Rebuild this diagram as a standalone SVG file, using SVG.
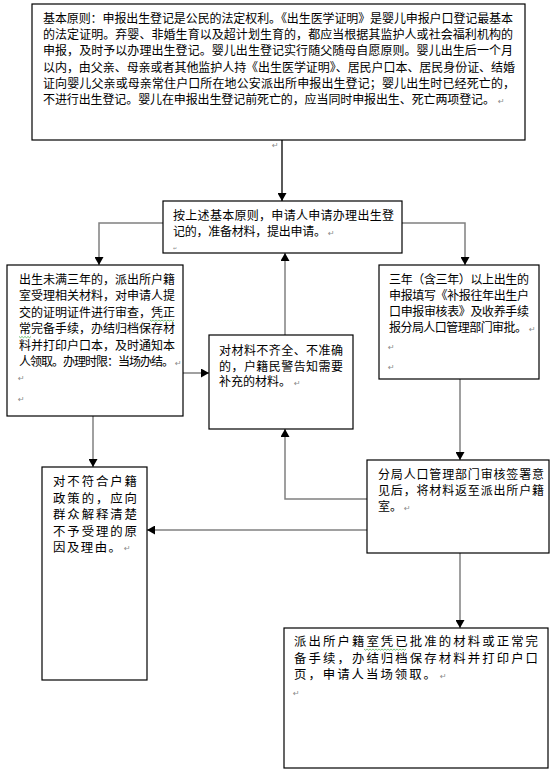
<svg xmlns="http://www.w3.org/2000/svg" width="556" height="773" viewBox="0 0 556 773">
<style>
.box{fill:#fff;stroke:#000;stroke-width:1.2}
.t{font-family:"Noto Sans CJK SC","Liberation Sans",sans-serif;font-size:12px;fill:#000}
.tb{font-family:"Noto Sans CJK SC","Liberation Sans",sans-serif;font-size:12.4px;fill:#000}
.pm{font-family:"DejaVu Sans",sans-serif;font-size:8px;fill:#8a8a8a}
.c{fill:none;stroke:#808080;stroke-width:1.5}
.ck{fill:none;stroke:#000;stroke-width:1.3}
.w{fill:none;stroke:#3aa33a;stroke-width:0.7}
</style>
<defs>
<marker id="ah" markerUnits="userSpaceOnUse" markerWidth="9" markerHeight="9" refX="8" refY="4.5" orient="auto">
<path d="M0,0 L8,4.5 L0,9 Z" fill="#000"/>
</marker>
</defs>
<rect width="556" height="773" fill="#fff"/>

<g id="connectors">
<path class="ck" d="M282,140 V201" marker-end="url(#ah)"/>
<path class="c" d="M163,223 H99 V265" marker-end="url(#ah)"/>
<path class="c" d="M402,223 H465 V265" marker-end="url(#ah)"/>
<path class="c" d="M183,373 H209" marker-end="url(#ah)"/>
<path class="c" d="M285,335 V253" marker-end="url(#ah)"/>
<path class="c" d="M93,416 V467" marker-end="url(#ah)"/>
<path class="c" d="M460,379 V460" marker-end="url(#ah)"/>
<path class="c" d="M367,499 H285 V429" marker-end="url(#ah)"/>
<path class="c" d="M367,530 H147" marker-end="url(#ah)"/>
<path class="c" d="M460,553 V628" marker-end="url(#ah)"/>
</g>

<g id="n1">
<rect class="box" x="32" y="4" width="493" height="136"/>
<text class="t" x="43" y="23" textLength="470" lengthAdjust="spacing">基本原则：申报出生登记是公民的法定权利。《出生医学证明》是婴儿申报户口登记最基本</text>
<text class="t" x="43" y="39" textLength="470" lengthAdjust="spacing">的法定证明。弃婴、非婚生育以及超计划生育的，都应当根据其监护人或社会福利机构的</text>
<text class="t" x="43" y="55" textLength="470" lengthAdjust="spacing">申报，及时予以办理出生登记。婴儿出生登记实行随父随母自愿原则。婴儿出生后一个月</text>
<text class="t" x="43" y="71.5" textLength="472" lengthAdjust="spacing">以内，由父亲、母亲或者其他监护人持《出生医学证明》、居民户口本、居民身份证、结婚</text>
<text class="t" x="43" y="87.5" textLength="472" lengthAdjust="spacing">证向婴儿父亲或母亲常住户口所在地公安派出所申报出生登记；婴儿出生时已经死亡的，</text>
<text class="t" x="43" y="104" textLength="452" lengthAdjust="spacing">不进行出生登记。婴儿在申报出生登记前死亡的，应当同时申报出生、死亡两项登记。</text>
<text class="pm" x="498" y="104">↵</text>
<text class="pm" x="272" y="148">↵</text>
</g>

<g id="n2">
<rect class="box" x="163" y="201" width="239" height="52"/>
<text class="t" x="173" y="219.5" textLength="221" lengthAdjust="spacing">按上述基本原则，申请人申请办理出生登</text>
<text class="t" x="173" y="236" textLength="153" lengthAdjust="spacing">记的，准备材料，提出申请。</text>
<text class="pm" x="328" y="236">↵</text>
<text class="pm" x="173" y="250" style="font-size:5px">↵</text>
</g>

<g id="n3">
<rect class="box" x="7" y="265" width="176" height="151"/>
<text class="t" x="19" y="283.5" textLength="156" lengthAdjust="spacing">出生未满三年的，派出所户籍</text>
<text class="t" x="19" y="300" textLength="156" lengthAdjust="spacing">室受理相关材料，对申请人提</text>
<text class="t" x="19" y="316.5" textLength="156" lengthAdjust="spacing">交的证明证件进行审查，凭正</text>
<text class="t" x="19" y="333" textLength="156" lengthAdjust="spacing">常完备手续，办结归档保存材</text>
<text class="t" x="19" y="349.5" textLength="156" lengthAdjust="spacing">料并打印户口本，及时通知本</text>
<text class="t" x="19" y="366" textLength="155" lengthAdjust="spacing">人领取。办理时限：当场办结。</text>
<text class="pm" x="175" y="366">↵</text>
<text class="pm" x="18" y="381">↵</text>
<text class="pm" x="18" y="402">↵</text>
<path class="w" d="M150,320 l1.5,1.2 l1.5,-1.2 l1.5,1.2 l1.5,-1.2 l1.5,1.2 l1.5,-1.2 l1.5,1.2 l1.5,-1.2 l1.5,1.2 l1.5,-1.2 l1.5,1.2 l1.5,-1.2 l1.5,1.2 l1.5,-1.2 l1.5,1.2 l1.5,-1.2"/>
<path class="w" d="M19,336.5 l1.5,1.2 l1.5,-1.2 l1.5,1.2 l1.5,-1.2 l1.5,1.2 l1.5,-1.2 l1.5,1.2 l1.5,-1.2"/>
</g>

<g id="n4">
<rect class="box" x="379" y="265" width="160" height="114"/>
<text class="t" x="389" y="283.5" textLength="140" lengthAdjust="spacing">三年（含三年）以上出生的</text>
<text class="t" x="389" y="300" textLength="140" lengthAdjust="spacing">申报填写《补报往年出生户</text>
<text class="t" x="389" y="316" textLength="140" lengthAdjust="spacing">口申报审核表》及收养手续</text>
<text class="t" x="389" y="332" textLength="138" lengthAdjust="spacing">报分局人口管理部门审批。</text>
<text class="pm" x="529" y="332">↵</text>
<text class="pm" x="388" y="350">↵</text>
<text class="pm" x="388" y="370">↵</text>
</g>

<g id="n5">
<rect class="box" x="209" y="335" width="144" height="94"/>
<text class="t" x="219" y="354.5" textLength="124" lengthAdjust="spacing">对材料不齐全、不准确</text>
<text class="t" x="219" y="370.5" textLength="124" lengthAdjust="spacing">的，户籍民警告知需要</text>
<text class="t" x="219" y="386" textLength="72" lengthAdjust="spacing">补充的材料。</text>
<text class="pm" x="294" y="386">↵</text>
</g>

<g id="n6">
<rect class="box" x="42" y="467" width="105" height="213"/>
<text class="tb" x="53" y="486" textLength="84" lengthAdjust="spacing">对不符合户籍</text>
<text class="tb" x="53" y="502.5" textLength="84" lengthAdjust="spacing">政策的，应向</text>
<text class="tb" x="53" y="519" textLength="84" lengthAdjust="spacing">群众解释清楚</text>
<text class="tb" x="53" y="535.5" textLength="84" lengthAdjust="spacing">不予受理的原</text>
<text class="tb" x="53" y="552" textLength="68" lengthAdjust="spacing">因及理由。</text>
<text class="pm" x="124" y="551">↵</text>
</g>

<g id="n7">
<rect class="box" x="367" y="460" width="182" height="93"/>
<text class="t" x="378" y="478.5" textLength="166" lengthAdjust="spacing">分局人口管理部门审核签署意</text>
<text class="t" x="378" y="494.5" textLength="166" lengthAdjust="spacing">见后，将材料返至派出所户籍</text>
<text class="t" x="378" y="511" textLength="24" lengthAdjust="spacing">室。</text>
<text class="pm" x="404" y="511">↵</text>
</g>

<g id="n8">
<rect class="box" x="284" y="628" width="264" height="140"/>
<text class="tb" x="294" y="646" textLength="244" lengthAdjust="spacing">派出所户籍室凭已批准的材料或正常完</text>
<text class="tb" x="294" y="662.5" textLength="244" lengthAdjust="spacing">备手续，办结归档保存材料并打印户口</text>
<text class="tb" x="294" y="679" textLength="142" lengthAdjust="spacing">页，申请人当场领取。</text>
<text class="pm" x="440" y="679">↵</text>
<text class="pm" x="293" y="696">↵</text>
<path class="w" d="M364,649 l1.5,1.2 l1.5,-1.2 l1.5,1.2 l1.5,-1.2 l1.5,1.2 l1.5,-1.2 l1.5,1.2 l1.5,-1.2 l1.5,1.2 l1.5,-1.2 l1.5,1.2 l1.5,-1.2 l1.5,1.2 l1.5,-1.2 l1.5,1.2 l1.5,-1.2 l1.5,1.2 l1.5,-1.2 l1.5,1.2 l1.5,-1.2 l1.5,1.2 l1.5,-1.2 l1.5,1.2 l1.5,-1.2 l1.5,1.2 l1.5,-1.2 l1.5,1.2 l1.5,-1.2"/>
</g>
</svg>
